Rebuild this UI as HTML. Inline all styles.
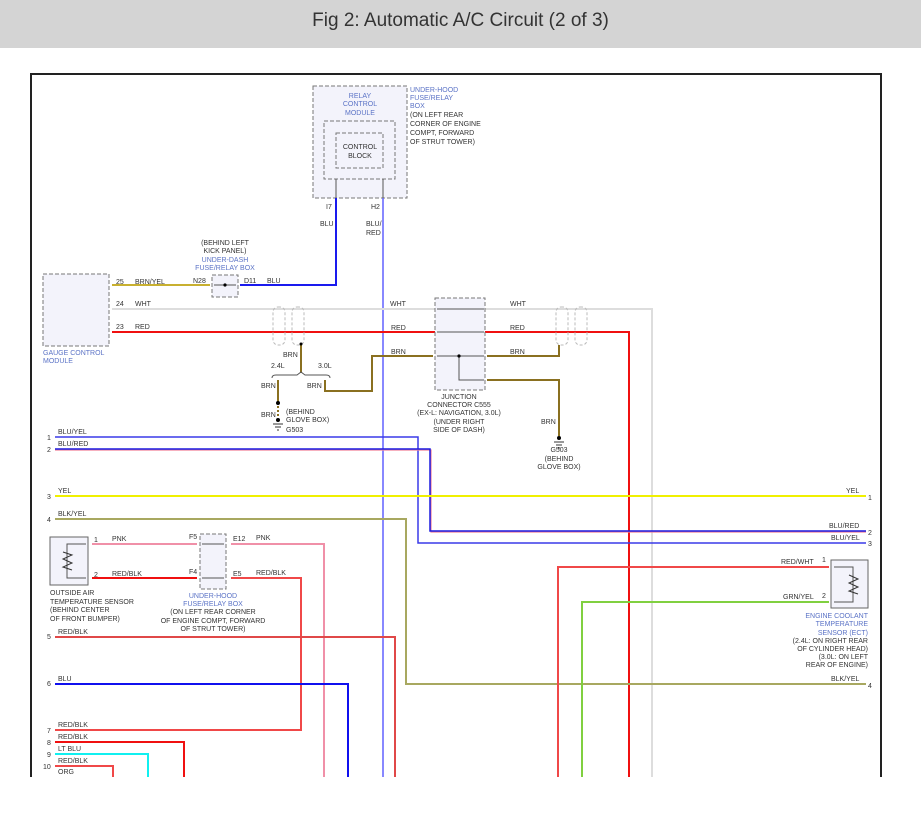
<!DOCTYPE html>
<html><head><meta charset="utf-8"><style>
html,body{margin:0;padding:0;background:#fff;width:921px;height:817px;overflow:hidden}
.hdr{position:absolute;left:0;top:0;width:921px;height:48px;background:#d4d4d4;text-align:center;font:19px "Liberation Sans",sans-serif;color:#333;line-height:42px}
svg{position:absolute;left:0;top:0}
text{font-family:"Liberation Sans",sans-serif;font-size:7px;fill:#333}
.b{fill:#5b73c6}
.d{fill:#f3f3fb;stroke:#777;stroke-dasharray:4 2;stroke-width:1}
</style></head><body>
<div class="hdr">Fig 2: Automatic A/C Circuit (2 of 3)</div>
<svg width="921" height="817" viewBox="0 0 921 817">
<path d="M31 777V74H881V777" fill="none" stroke="#222" stroke-width="2"/>
<rect class="d" x="313" y="86" width="94" height="112"/>
<rect class="d" x="324" y="121" width="71" height="58"/>
<rect class="d" x="336" y="133" width="47" height="35" fill="#e8e8f6"/>
<g class="b" text-anchor="middle"><text x="360" y="98" class="b">RELAY</text><text x="360" y="106" class="b">CONTROL</text><text x="360" y="115" class="b">MODULE</text></g>
<text x="360" y="149" text-anchor="middle">CONTROL</text><text x="360" y="158" text-anchor="middle">BLOCK</text>
<text x="410" y="92" class="b">UNDER-HOOD</text><text x="410" y="100" class="b">FUSE/RELAY</text><text x="410" y="108" class="b">BOX</text>
<text x="410" y="117">(ON LEFT REAR</text><text x="410" y="126">CORNER OF ENGINE</text><text x="410" y="135">COMPT, FORWARD</text><text x="410" y="144">OF STRUT TOWER)</text>
<path d="M336 179V198M383 179V198" stroke="#555"/>
<text x="326" y="209">I7</text><text x="371" y="209">H2</text>
<text x="320" y="226">BLU</text><text x="366" y="226">BLU/</text><text x="366" y="235">RED</text>
<path d="M336 198V285H240" fill="none" stroke="#1a1aee" stroke-width="2"/>
<path d="M383 198V777" stroke="#6060ff" stroke-width="1.5"/>
<text x="225" y="245" text-anchor="middle">(BEHIND LEFT</text><text x="225" y="253" text-anchor="middle">KICK PANEL)</text>
<text x="225" y="262" text-anchor="middle" class="b">UNDER-DASH</text><text x="225" y="270" text-anchor="middle" class="b">FUSE/RELAY BOX</text>
<rect class="d" x="212" y="275" width="26" height="22"/>
<path d="M214 285H236" stroke="#555"/><circle cx="225" cy="285" r="1.6" fill="#000"/>
<text x="193" y="283">N28</text><text x="244" y="283">D11</text><text x="267" y="283">BLU</text>
<rect class="d" x="43" y="274" width="66" height="72"/>
<text x="43" y="355" class="b">GAUGE CONTROL</text><text x="43" y="363" class="b">MODULE</text>
<path d="M112 285H210" stroke="#c8b030" stroke-width="2"/>
<path d="M112 309H652V777" fill="none" stroke="#ddd" stroke-width="2"/>
<path d="M112 332H629V777" fill="none" stroke="#f01010" stroke-width="2"/>
<text x="116" y="284">25</text><text x="135" y="284">BRN/YEL</text>
<text x="116" y="306">24</text><text x="135" y="306">WHT</text>
<text x="116" y="329">23</text><text x="135" y="329">RED</text>
<rect x="273" y="307" width="12" height="38" rx="5" fill="none" stroke="#bbb" stroke-dasharray="3 2"/>
<rect x="292" y="307" width="12" height="38" rx="5" fill="none" stroke="#bbb" stroke-dasharray="3 2"/>
<path d="M301 345V373" stroke="#8a7020" stroke-width="2"/><circle cx="301" cy="344" r="1.5"/>
<path d="M272 378Q272 375 276 375H297L301 372L305 375H326Q330 375 330 378" fill="none" stroke="#555"/>
<text x="283" y="357">BRN</text><text x="271" y="368">2.4L</text><text x="318" y="368">3.0L</text>
<text x="261" y="388">BRN</text><text x="307" y="388">BRN</text>
<path d="M278 380V403" stroke="#8a7020" stroke-width="2"/><circle cx="278" cy="403" r="2" fill="#000"/>
<path d="M278 406V417" stroke="#8a7020" stroke-width="2" stroke-dasharray="2 2"/>
<circle cx="278" cy="420" r="2"/><path d="M273 424H283M275 427H281M277 430H279" stroke="#333"/>
<text x="261" y="417">BRN</text><text x="286" y="414">(BEHIND</text><text x="286" y="422">GLOVE BOX)</text><text x="286" y="432">G503</text>
<path d="M325 380V391H372V356H433" fill="none" stroke="#8a7020" stroke-width="2"/>
<rect class="d" x="435" y="298" width="50" height="92"/>
<path d="M437 309H484M437 332H484M437 356H484M459 356V380H484" fill="none" stroke="#555"/>
<circle cx="459" cy="356" r="1.6" fill="#000"/>
<text x="390" y="306">WHT</text><text x="391" y="330">RED</text><text x="391" y="354">BRN</text>
<text x="510" y="306">WHT</text><text x="510" y="330">RED</text><text x="510" y="354">BRN</text>
<g text-anchor="middle"><text x="459" y="399">JUNCTION</text><text x="459" y="407">CONNECTOR C555</text><text x="459" y="415">(EX-L: NAVIGATION, 3.0L)</text><text x="459" y="424">(UNDER RIGHT</text><text x="459" y="432">SIDE OF DASH)</text></g>
<path d="M487 356H559V345M487 380H559V436" fill="none" stroke="#8a7020" stroke-width="2"/>
<rect x="556" y="307" width="12" height="38" rx="5" fill="none" stroke="#bbb" stroke-dasharray="3 2"/>
<rect x="575" y="307" width="12" height="38" rx="5" fill="none" stroke="#bbb" stroke-dasharray="3 2"/>
<circle cx="559" cy="438" r="2"/><path d="M554 442H564M556 445H562M558 448H560" stroke="#333"/>
<text x="541" y="424">BRN</text>
<g text-anchor="middle"><text x="559" y="452">G503</text><text x="559" y="461">(BEHIND</text><text x="559" y="469">GLOVE BOX)</text></g>
<path d="M55 437H418V543H866" fill="none" stroke="#3a3ae8" stroke-width="1.5"/>
<path d="M55 450H431V532H866" fill="none" stroke="#f08098" stroke-width="1.2"/>
<path d="M55 449H430V531H866" fill="none" stroke="#1a1ae0" stroke-width="1.5"/>
<path d="M55 496H866" stroke="#f0f000" stroke-width="2"/>
<path d="M55 519H406V684H866" fill="none" stroke="#a8a860" stroke-width="2"/>
<text x="47" y="440">1</text><text x="58" y="434">BLU/YEL</text>
<text x="47" y="452">2</text><text x="58" y="446">BLU/RED</text>
<text x="47" y="499">3</text><text x="58" y="493">YEL</text>
<text x="47" y="522">4</text><text x="58" y="516">BLK/YEL</text>
<text x="846" y="493">YEL</text><text x="868" y="500">1</text>
<text x="829" y="528">BLU/RED</text><text x="868" y="535">2</text>
<text x="831" y="540">BLU/YEL</text><text x="868" y="546">3</text>
<text x="831" y="681">BLK/YEL</text><text x="868" y="688">4</text>
<rect x="50" y="537" width="38" height="48" fill="#f3f3fb" stroke="#666"/>
<path d="M86 544H67V578H86" fill="none" stroke="#555"/>
<path d="M63 552L72 555L63 559L72 563L63 567L72 570" fill="none" stroke="#333"/>
<path d="M92 544H197V544" stroke="#f090a8" stroke-width="2"/>
<path d="M92 578H197" stroke="#f01010" stroke-width="2"/>
<text x="94" y="542">1</text><text x="112" y="541">PNK</text><text x="94" y="577">2</text><text x="112" y="576">RED/BLK</text>
<text x="50" y="595">OUTSIDE AIR</text><text x="50" y="604">TEMPERATURE SENSOR</text><text x="50" y="612">(BEHIND CENTER</text><text x="50" y="621">OF FRONT BUMPER)</text>
<rect class="d" x="200" y="534" width="26" height="55"/>
<path d="M202 544H224M202 578H224" stroke="#555"/>
<text x="189" y="539">F5</text><text x="189" y="574">F4</text><text x="233" y="541">E12</text><text x="233" y="576">E5</text>
<text x="256" y="540">PNK</text><text x="256" y="575">RED/BLK</text>
<g text-anchor="middle"><text x="213" y="598" class="b">UNDER-HOOD</text><text x="213" y="606" class="b">FUSE/RELAY BOX</text><text x="213" y="614">(ON LEFT REAR CORNER</text><text x="213" y="623">OF ENGINE COMPT, FORWARD</text><text x="213" y="631">OF STRUT TOWER)</text></g>
<path d="M231 544H324V777" fill="none" stroke="#f090a8" stroke-width="2"/>
<path d="M231 578H301V730H55" fill="none" stroke="#f04848" stroke-width="2"/>
<path d="M55 637H395V777" fill="none" stroke="#e04848" stroke-width="2"/>
<path d="M55 684H348V777" fill="none" stroke="#1010ee" stroke-width="2"/>
<path d="M55 742H184V777" fill="none" stroke="#f01010" stroke-width="2"/>
<path d="M55 754H148V777" fill="none" stroke="#10f0f0" stroke-width="2"/>
<path d="M55 766H113V777" fill="none" stroke="#f04848" stroke-width="2"/>
<text x="47" y="639">5</text><text x="58" y="634">RED/BLK</text>
<text x="47" y="686">6</text><text x="58" y="681">BLU</text>
<text x="47" y="733">7</text><text x="58" y="727">RED/BLK</text>
<text x="47" y="745">8</text><text x="58" y="739">RED/BLK</text>
<text x="47" y="757">9</text><text x="58" y="751">LT BLU</text>
<text x="43" y="769">10</text><text x="58" y="763">RED/BLK</text>
<text x="58" y="774">ORG</text>
<path d="M558 777V567H829" fill="none" stroke="#f04848" stroke-width="2"/>
<path d="M582 777V602H829" fill="none" stroke="#80d040" stroke-width="2"/>
<rect x="831" y="560" width="37" height="48" fill="#f3f3fb" stroke="#666"/>
<path d="M834 567H853V602H834" fill="none" stroke="#555"/>
<path d="M849 575L858 579L849 583L858 587L849 591L858 594" fill="none" stroke="#333"/>
<text x="781" y="564">RED/WHT</text><text x="822" y="562">1</text><text x="783" y="599">GRN/YEL</text><text x="822" y="598">2</text>
<g text-anchor="end"><text x="868" y="618" class="b">ENGINE COOLANT</text><text x="868" y="626" class="b">TEMPERATURE</text><text x="868" y="635" class="b">SENSOR (ECT)</text><text x="868" y="643">(2.4L: ON RIGHT REAR</text><text x="868" y="651">OF CYLINDER HEAD)</text><text x="868" y="659">(3.0L: ON LEFT</text><text x="868" y="667">REAR OF ENGINE)</text></g>
</svg>
</body></html>
